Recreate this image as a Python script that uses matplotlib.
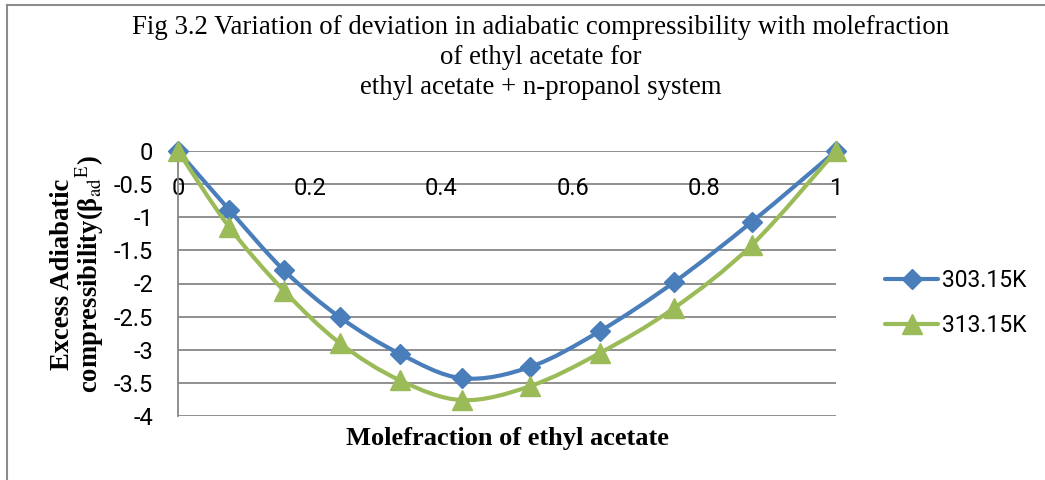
import numpy as np
import matplotlib
matplotlib.use("Agg")
import matplotlib.pyplot as plt
from matplotlib.path import Path
from matplotlib.patches import PathPatch
from matplotlib.lines import Line2D

# ---- data ----
mole_fraction = [0.0, 0.078, 0.161, 0.246, 0.337, 0.432, 0.535, 0.641, 0.754, 0.872, 1.0]
beta_303 = [0.0, -0.89, -1.80, -2.51, -3.06, -3.43, -3.26, -2.72, -1.98, -1.07, 0.0]
beta_313 = [0.0, -1.15, -2.11, -2.90, -3.46, -3.76, -3.55, -3.05, -2.37, -1.42, 0.0]
series_labels = ["303.15K", "313.15K"]
x_ticks = [0, 0.2, 0.4, 0.6, 0.8, 1]
x_tick_labels = ["0", "0.2", "0.4", "0.6", "0.8", "1"]
y_ticks = [0, -0.5, -1, -1.5, -2, -2.5, -3, -3.5, -4]
y_tick_labels = ["0", "-0.5", "-1", "-1.5", "-2", "-2.5", "-3", "-3.5", "-4"]
title = ("Fig 3.2 Variation of deviation in adiabatic compressibility with molefraction\n"
         "of ethyl acetate for\nethyl acetate + n-propanol system")
xlabel = "Molefraction of ethyl acetate"
ylabel = "Excess Adiabatic\ncompressibility(β$_{\\rm ad}{}^{\\rm E}$)"

BLUE = "#4A7EBB"
GREEN = "#9BBB59"
GRID = "#878787"
SANS = ["Roboto", "DejaVu Sans"]
SERIF = ["Liberation Serif", "DejaVu Serif"]

plt.rcParams["mathtext.fontset"] = "stix"

fig = plt.figure(figsize=(10.45, 4.8), dpi=100)
W, H = 1045, 480
ax = fig.add_axes([178 / W, 1 - 416 / H, (836 - 178) / W, (416 - 151) / H])


def smooth_path(xs, ys):
    """Excel-style smoothed line: cubic Bezier through the points."""
    p = np.column_stack([xs, ys]).astype(float)
    n = len(p)
    verts = [p[0]]
    codes = [Path.MOVETO]
    for i in range(n - 1):
        p0 = p[i - 1] if i > 0 else p[i]
        p1 = p[i]
        p2 = p[i + 1]
        p3 = p[i + 2] if i + 2 < n else p[i + 1]
        c1 = p1 + (p2 - p0) / 6.0
        c2 = p2 - (p3 - p1) / 6.0
        verts += [c1, c2, p2]
        codes += [Path.CURVE4] * 3
    return Path(verts, codes)


for ys, color in [(beta_303, BLUE), (beta_313, GREEN)]:
    ax.add_patch(PathPatch(smooth_path(mole_fraction, ys), facecolor="none",
                           edgecolor=color, lw=3.0, capstyle="round",
                           joinstyle="round", zorder=3))

ax.plot(mole_fraction, beta_303, ls="none", marker="D", ms=10, color=BLUE,
        mec=BLUE, zorder=4, clip_on=False)
ax.plot(mole_fraction, beta_313, ls="none", marker="^", ms=14, color=GREEN,
        mec=GREEN, zorder=4, clip_on=False)

ax.set_xlim(0, 1)
ax.set_ylim(-4, 0)
ax.set_yticks(y_ticks)
ax.set_yticklabels(y_tick_labels)
ax.set_xticks(x_ticks)
ax.set_xticklabels(x_tick_labels)
for y in y_ticks:
    ax.axhline(y, color=GRID, lw=1.3, zorder=1)

for s in ["top", "right", "bottom"]:
    ax.spines[s].set_visible(False)
ax.spines["left"].set_color(GRID)
ax.spines["left"].set_linewidth(1.3)
ax.spines["bottom"].set_position(("data", 0))

ax.tick_params(axis="both", length=0, labelsize=17, colors="black")
ax.tick_params(axis="x", pad=19)
ax.tick_params(axis="y", pad=18)
for lab in ax.get_xticklabels() + ax.get_yticklabels():
    lab.set_fontfamily(SANS)

ax.set_xlabel(xlabel, fontsize=19, fontweight="bold", family=SERIF, labelpad=0)
ax.xaxis.set_label_coords(0.5, -0.04)
ax.xaxis.label.set_va("top")

yl = ax.set_ylabel(ylabel, fontsize=19.2, fontweight="bold", family=SERIF,
                   linespacing=0.95)
yl.set_va("center")
ax.yaxis.set_label_coords((78 - 178) / (836 - 178), 0.535)

fig.text(541 / W, 1 - 15 / H, title, ha="center", va="top", fontsize=19.3,
         family=SERIF, linespacing=1.27)

handles = [Line2D([], [], color=BLUE, lw=3.0, marker="D", ms=10, solid_capstyle="round"),
           Line2D([], [], color=GREEN, lw=3.0, marker="^", ms=14, solid_capstyle="round")]
leg = fig.legend(handles, series_labels, loc="center left",
                 bbox_to_anchor=(874 / W, 1 - 303 / H), frameon=False,
                 prop={"family": SANS, "size": 16.5}, handlelength=2.3,
                 handletextpad=0.15, labelspacing=0.95, borderpad=0)

# chart frame (left and top edges visible)
fig.add_artist(Line2D([7 / W, 7 / W], [0, 1 - 5 / H], color="#8c8c8c", lw=1.5,
                      transform=fig.transFigure))
fig.add_artist(Line2D([7 / W, 1], [1 - 5 / H, 1 - 5 / H], color="#8c8c8c", lw=1.5,
                      transform=fig.transFigure))

fig.savefig("out.png", dpi=100)
